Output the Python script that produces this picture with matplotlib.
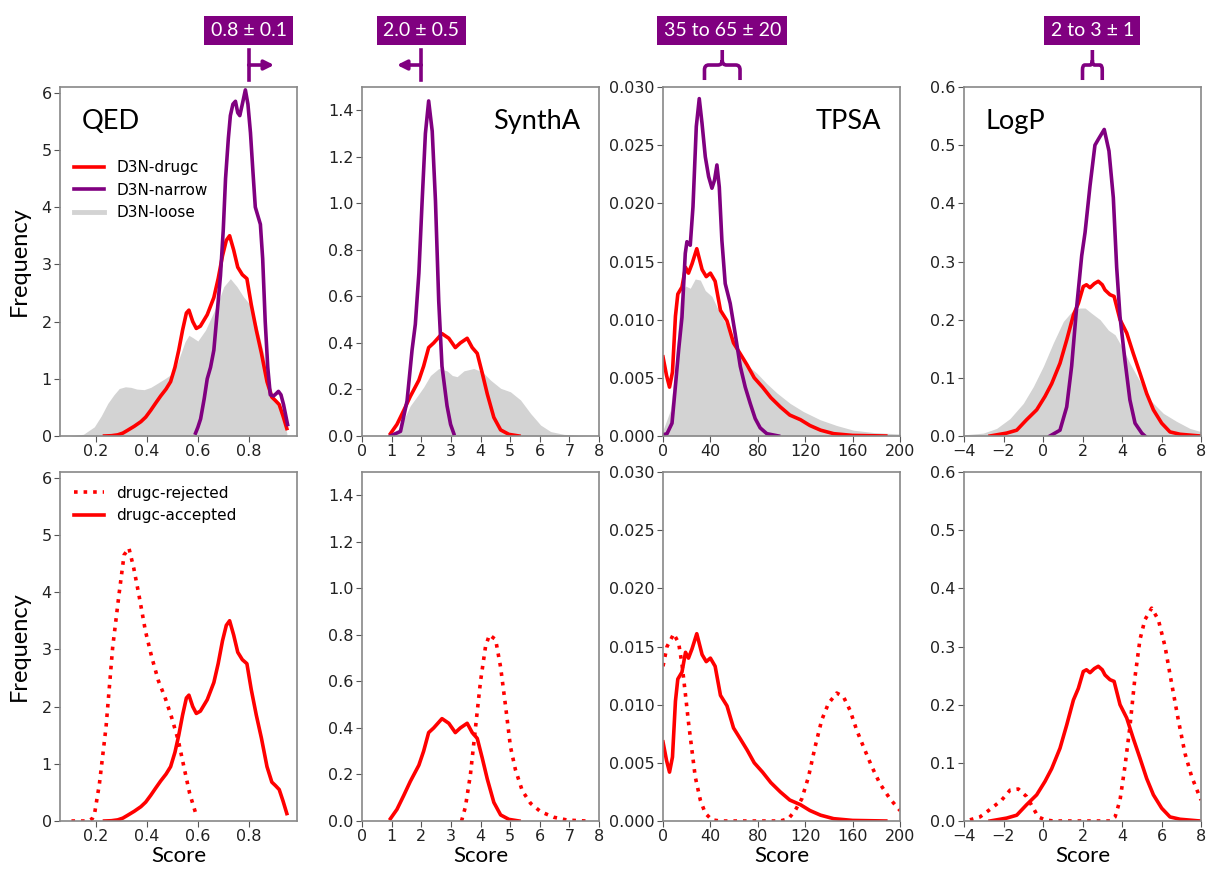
import matplotlib
matplotlib.use("Agg")
import matplotlib.pyplot as plt
from matplotlib.lines import Line2D
from matplotlib.path import Path
from matplotlib.patches import PathPatch
from matplotlib.transforms import blended_transform_factory

# ---- QED ----
qed_loose_x = [0.096, 0.15, 0.193, 0.22, 0.246, 0.27, 0.291, 0.315, 0.337, 0.36, 0.389, 0.415, 0.441,
               0.47, 0.493, 0.515, 0.533, 0.55, 0.565, 0.58, 0.6, 0.63, 0.663, 0.685, 0.702, 0.728,
               0.754, 0.78, 0.807, 0.833, 0.859, 0.885, 0.911, 0.937, 0.95]
qed_loose_y = [0.0, 0.03, 0.16, 0.35, 0.57, 0.72, 0.83, 0.86, 0.85, 0.82, 0.81, 0.85, 0.92,
               1.0, 1.07, 1.22, 1.44, 1.65, 1.76, 1.72, 1.66, 1.85, 2.17, 2.4, 2.61, 2.75,
               2.61, 2.43, 2.29, 1.91, 1.44, 0.86, 0.57, 0.28, 0.05]
qed_drugc_x = [0.233, 0.26, 0.285, 0.305, 0.324, 0.35, 0.376, 0.395, 0.415, 0.435, 0.454, 0.475, 0.493,
               0.51, 0.525, 0.54, 0.555, 0.565, 0.58, 0.594, 0.61, 0.637, 0.663, 0.68, 0.697, 0.712,
               0.725, 0.741, 0.757, 0.775, 0.793, 0.81, 0.83, 0.85, 0.872, 0.891, 0.905, 0.92, 0.935, 0.95]
qed_drugc_y = [0.0, 0.005, 0.02, 0.05, 0.1, 0.17, 0.25, 0.33, 0.45, 0.58, 0.7, 0.82, 0.95,
               1.2, 1.5, 1.85, 2.15, 2.2, 2.0, 1.88, 1.92, 2.12, 2.42, 2.75, 3.15, 3.42,
               3.5, 3.25, 2.95, 2.82, 2.75, 2.3, 1.85, 1.45, 0.95, 0.68, 0.62, 0.55, 0.35, 0.13]
qed_narrow_x = [0.591, 0.6, 0.611, 0.625, 0.637, 0.65, 0.663, 0.675, 0.689, 0.7, 0.709, 0.72, 0.728,
                0.738, 0.748, 0.757, 0.765, 0.775, 0.787, 0.797, 0.807, 0.817, 0.826, 0.836, 0.846,
                0.855, 0.865, 0.875, 0.885, 0.898, 0.908, 0.917, 0.927, 0.937, 0.953]
qed_narrow_y = [0.05, 0.15, 0.3, 0.65, 1.0, 1.2, 1.5, 2.1, 2.8, 3.6, 4.5, 5.2, 5.6,
                5.8, 5.85, 5.65, 5.6, 5.8, 6.05, 5.8, 5.3, 4.6, 4.0, 3.85, 3.7,
                3.1, 2.0, 1.2, 0.72, 0.7, 0.74, 0.78, 0.72, 0.55, 0.2]
qed_rej_x = [0.103, 0.168, 0.185, 0.194, 0.213, 0.239, 0.265, 0.29, 0.31, 0.329, 0.348, 0.368, 0.394,
             0.419, 0.445, 0.471, 0.497, 0.523, 0.548, 0.568, 0.594]
qed_rej_y = [0.0, 0.0, 0.04, 0.13, 0.65, 1.64, 3.03, 3.96, 4.65, 4.77, 4.42, 3.96, 3.32,
             2.86, 2.45, 2.16, 1.81, 1.41, 0.89, 0.48, 0.1]

# ---- SynthA ----
sa_loose_x = [1.13, 1.41, 1.63, 1.86, 2.08, 2.31, 2.59, 2.87, 3.05, 3.21, 3.44, 3.77, 4.06, 4.34,
              4.68, 5.01, 5.35, 5.69, 6.03, 6.37, 6.82, 7.55]
sa_loose_y = [0.01, 0.07, 0.13, 0.17, 0.21, 0.26, 0.29, 0.28, 0.26, 0.255, 0.28, 0.29, 0.276, 0.24,
              0.205, 0.19, 0.155, 0.097, 0.047, 0.019, 0.007, 0.0]
sa_drugc_x = [0.96, 1.18, 1.41, 1.63, 1.92, 2.08, 2.25, 2.42, 2.7, 2.93, 3.15, 3.32, 3.55, 3.72,
              3.89, 4.06, 4.23, 4.45, 4.68, 4.96, 5.3]
sa_drugc_y = [0.01, 0.05, 0.11, 0.17, 0.24, 0.30, 0.38, 0.40, 0.44, 0.42, 0.38, 0.40, 0.42, 0.38,
              0.355, 0.27, 0.18, 0.08, 0.026, 0.007, 0.0]
sa_narrow_x = [0.96, 1.3, 1.52, 1.69, 1.8, 1.92, 2.03, 2.14, 2.25, 2.37, 2.48, 2.59, 2.7, 2.87, 2.99, 3.1]
sa_narrow_y = [0.0, 0.02, 0.15, 0.37, 0.48, 0.7, 1.01, 1.3, 1.44, 1.31, 1.01, 0.58, 0.3, 0.13, 0.05, 0.01]
sa_rej_x = [3.36, 3.49, 3.66, 3.83, 4.0, 4.17, 4.3, 4.51, 4.68, 4.85, 5.01, 5.18, 5.41, 5.69,
            6.03, 6.48, 6.93, 7.55]
sa_rej_y = [0.0, 0.06, 0.2, 0.4, 0.6, 0.75, 0.8, 0.78, 0.66, 0.49, 0.32, 0.22, 0.13, 0.076,
            0.04, 0.016, 0.004, 0.0]

# ---- TPSA ----
tp_loose_x = [0, 6.2, 10.4, 14.6, 18.8, 23, 27.2, 31.5, 35.7, 41.3, 46.9, 52.5, 58.1, 65.2, 72.2,
              79.2, 87.6, 96.1, 107.3, 118.5, 132.6, 146.6, 160.7, 177.5, 200]
tp_loose_y = [0.0005, 0.0022, 0.006, 0.0117, 0.0129, 0.0127, 0.0135, 0.0134, 0.0125, 0.012, 0.0108,
              0.0097, 0.0085, 0.0071, 0.006, 0.0054, 0.0045, 0.0037, 0.0028, 0.0021, 0.0014, 0.0009,
              0.0005, 0.0003, 0.00017]
tp_drugc_x = [0, 3, 5.5, 8, 10.5, 12.5, 16, 19, 21.5, 24.5, 28.5, 33, 36.5, 40, 44, 48.5, 54, 59.5,
              65, 71, 77, 84, 91, 99, 107, 116, 124, 133, 144, 160, 188]
tp_drugc_y = [0.0068, 0.0052, 0.0042, 0.0055, 0.0103, 0.0122, 0.0128, 0.0145, 0.014, 0.0148, 0.0161,
              0.0143, 0.0137, 0.014, 0.0133, 0.0108, 0.0099, 0.008, 0.0071, 0.0061, 0.005, 0.0042,
              0.0033, 0.0025, 0.0018, 0.0014, 0.0009, 0.0005, 0.0002, 0.00005, 0.0]
tp_narrow_x = [0, 3.4, 7.6, 10.4, 13.2, 16, 18.8, 20.2, 23, 25.3, 28.1, 30.6, 32.9, 35.7, 38.5, 41.3,
               43.5, 45.5, 47.5, 49.7, 52.5, 56.7, 60.9, 65.2, 69.4, 73.6, 77.8, 82, 87.6, 97.5]
tp_narrow_y = [0.0001, 0.0002, 0.0011, 0.0042, 0.0074, 0.0102, 0.0157, 0.0167, 0.0164, 0.0197, 0.0266,
               0.029, 0.0269, 0.024, 0.0223, 0.0213, 0.022, 0.0233, 0.0214, 0.0168, 0.0131, 0.0114,
               0.0088, 0.006, 0.0042, 0.0028, 0.0015, 0.0007, 0.0002, 0.0]
tp_rej_x = [0, 3.4, 7.6, 9, 13.2, 16, 18.8, 21.6, 24.4, 27.2, 31.5, 35.7, 41.3, 48.3, 98.9, 105.9,
            111.5, 117.1, 122.8, 128.4, 134, 139.6, 146.6, 152.2, 157.9, 163.5, 169.1, 176.1, 183.1,
            191.6, 200]
tp_rej_y = [0.0133, 0.015, 0.0158, 0.0161, 0.0153, 0.0135, 0.011, 0.0084, 0.0061, 0.0038, 0.0018,
            0.00066, 0.0001, 0.0, 0.0, 0.0002, 0.0009, 0.0019, 0.0038, 0.0064, 0.0087, 0.0101, 0.011,
            0.0107, 0.0095, 0.0078, 0.0064, 0.0047, 0.0032, 0.0019, 0.0009]

# ---- LogP ----
lp_loose_x = [-4, -3.02, -2.35, -1.67, -1.0, -0.49, 0.02, 0.52, 1.03, 1.54, 1.87, 2.13, 2.46, 2.89,
              3.31, 3.65, 3.98, 4.4, 4.91, 5.42, 6.09, 6.77, 7.44, 8]
lp_loose_y = [0.002, 0.005, 0.013, 0.03, 0.056, 0.085, 0.12, 0.16, 0.197, 0.217, 0.22, 0.22, 0.211, 0.2,
              0.182, 0.174, 0.154, 0.125, 0.094, 0.062, 0.039, 0.025, 0.013, 0.0075]
lp_drugc_x = [-2.68, -1.84, -1.33, -0.83, -0.32, 0.1, 0.44, 0.86, 1.2, 1.54, 1.79, 2.04, 2.2, 2.38,
              2.6, 2.8, 3.0, 3.14, 3.39, 3.6, 3.9, 4.24, 4.57, 4.91, 5.25, 5.59, 6.01, 6.43, 6.94, 7.95]
lp_drugc_y = [0.0, 0.005, 0.01, 0.028, 0.045, 0.068, 0.09, 0.125, 0.165, 0.208, 0.228, 0.257, 0.26, 0.255,
              0.262, 0.266, 0.26, 0.251, 0.243, 0.24, 0.2, 0.177, 0.142, 0.108, 0.073, 0.045, 0.022,
              0.007, 0.003, 0.0]
lp_narrow_x = [0.35, 0.86, 1.2, 1.45, 1.7, 1.96, 2.13, 2.38, 2.63, 2.8, 3.1, 3.34, 3.56, 3.73, 3.9,
               4.15, 4.4, 4.66, 5.0, 5.16]
lp_narrow_y = [0.0, 0.01, 0.05, 0.12, 0.22, 0.31, 0.35, 0.43, 0.5, 0.51, 0.527, 0.49, 0.41, 0.29, 0.205,
               0.13, 0.062, 0.022, 0.005, 0.0]
lp_rej_x = [-3.7, -3.19, -2.6, -2.09, -1.67, -1.25, -0.83, -0.49, -0.24, 0.1, 0.52, 3.39, 3.65, 3.9,
            4.15, 4.4, 4.66, 4.91, 5.16, 5.5, 5.84, 6.18, 6.51, 6.85, 7.19, 7.53, 8]
lp_rej_y = [0.002, 0.007, 0.022, 0.036, 0.053, 0.055, 0.042, 0.022, 0.007, 0.002, 0.0, 0.0, 0.007, 0.036,
            0.094, 0.162, 0.248, 0.312, 0.346, 0.366, 0.346, 0.3, 0.237, 0.174, 0.116, 0.076, 0.036]

nombres = ["QED", "SynthA", "TPSA", "LogP"]
limites_x = [(0.058, 0.99), (0, 8), (0, 200), (-4, 8)]
limites_y = [(0, 6.1), (0, 1.5), (0, 0.030), (0, 0.6)]
ticks_x = [[0.2, 0.4, 0.6, 0.8], list(range(0, 9)), [0, 40, 80, 120, 160, 200], [-4, -2, 0, 2, 4, 6, 8]]
ticks_y = [[0, 1, 2, 3, 4, 5, 6], [0.0, 0.2, 0.4, 0.6, 0.8, 1.0, 1.2, 1.4],
           [0.0, 0.005, 0.010, 0.015, 0.020, 0.025, 0.030], [0.0, 0.1, 0.2, 0.3, 0.4, 0.5, 0.6]]
fmt_y = ["{:.0f}", "{:.1f}", "{:.3f}", "{:.1f}"]
etiquetas_caja = ["0.8 ± 0.1", "2.0 ± 0.5", "35 to 65 ± 20", "2 to 3 ± 1"]
rango_objetivo = [(0.8, 0.9), (2.0, 1.18), (35, 65), (2, 3)]

curvas_loose = [(qed_loose_x, qed_loose_y), (sa_loose_x, sa_loose_y), (tp_loose_x, tp_loose_y), (lp_loose_x, lp_loose_y)]
curvas_drugc = [(qed_drugc_x, qed_drugc_y), (sa_drugc_x, sa_drugc_y), (tp_drugc_x, tp_drugc_y), (lp_drugc_x, lp_drugc_y)]
curvas_narrow = [(qed_narrow_x, qed_narrow_y), (sa_narrow_x, sa_narrow_y), (tp_narrow_x, tp_narrow_y), (lp_narrow_x, lp_narrow_y)]
curvas_rej = [(qed_rej_x, qed_rej_y), (sa_rej_x, sa_rej_y), (tp_rej_x, tp_rej_y), (lp_rej_x, lp_rej_y)]

MORADO = "purple"
LW = 2.6
FUENTE = "Lato"

fig = plt.figure(figsize=(12.06, 8.71), dpi=100)
izq = [60, 362, 663, 964]
ancho = 237 / 1206
alto = 349 / 871


def estilo_ejes(ax, i):
    ax.set_xlim(*limites_x[i])
    ax.set_ylim(*limites_y[i])
    ax.set_xticks(ticks_x[i])
    ax.set_yticks(ticks_y[i])
    ax.set_yticklabels([fmt_y[i].format(v) for v in ticks_y[i]])
    ax.tick_params(labelsize=11.5, colors="#222222", length=4, color="#555555", pad=2)
    for sp in ax.spines.values():
        sp.set_color("#888888")
        sp.set_linewidth(1.2)


def dibujar_anotacion(ax, i):
    tr = blended_transform_factory(ax.transData, ax.transAxes)
    a, b = rango_objetivo[i]
    y0, y1, y2 = 1.02, 1.063, 1.106
    if i < 2:
        ax.plot([a, a], [y0, y2], color=MORADO, lw=LW, transform=tr, clip_on=False)
        ax.annotate("", xy=(b, y1), xytext=(a, y1), xycoords=tr, textcoords=tr,
                    arrowprops=dict(arrowstyle="-|>", color=MORADO, lw=LW, mutation_scale=14,
                                    shrinkA=0, shrinkB=0))
        xc = a
    else:
        xc = (a + b) / 2
        r = (b - a) * 0.12
        ry = 0.014
        verts = [(a, y0), (a, y1 - ry), (a, y1), (a + r, y1), (xc - r, y1), (xc, y1), (xc, y1 + ry), (xc, y2),
                 (xc, y1 + ry), (xc, y1), (xc + r, y1), (b - r, y1), (b, y1), (b, y1 - ry), (b, y0)]
        codes = [Path.MOVETO, Path.LINETO, Path.CURVE3, Path.CURVE3, Path.LINETO, Path.CURVE3, Path.CURVE3,
                 Path.LINETO, Path.MOVETO, Path.CURVE3, Path.CURVE3, Path.LINETO, Path.CURVE3, Path.CURVE3,
                 Path.LINETO]
        ax.add_patch(PathPatch(Path(verts, codes), fill=False, edgecolor=MORADO, lw=LW,
                               transform=tr, clip_on=False, capstyle="butt"))
    ax.text(xc, 1.162, etiquetas_caja[i], transform=tr, ha="center", va="center", color="white",
            fontsize=14, family=FUENTE,
            bbox=dict(boxstyle="square,pad=0.33", facecolor=MORADO, edgecolor="none"))


pos_titulo = [(0.09, 0.9, "left"), (0.92, 0.9, "right"), (0.92, 0.9, "right"), (0.09, 0.9, "left")]

for i in range(4):
    # fila de arriba
    ax = fig.add_axes([izq[i] / 1206, 1 - 436 / 871, ancho, alto])
    lx, ly = curvas_loose[i]
    ax.fill_between(lx, ly, 0, color="lightgray", lw=0)
    dx, dy = curvas_drugc[i]
    ax.plot(dx, dy, color="red", lw=LW)
    nx, ny = curvas_narrow[i]
    ax.plot(nx, ny, color=MORADO, lw=LW)
    estilo_ejes(ax, i)
    px, py, ha = pos_titulo[i]
    ax.text(px, py, nombres[i], transform=ax.transAxes, ha=ha, va="center", fontsize=19.5, family=FUENTE)
    dibujar_anotacion(ax, i)
    if i == 0:
        ax.set_ylabel("Frequency", fontsize=17, family=FUENTE, labelpad=8)
        handles = [Line2D([], [], color="red", lw=LW), Line2D([], [], color=MORADO, lw=LW),
                   Line2D([], [], color="lightgray", lw=3.5)]
        ax.legend(handles, ["D3N-drugc", "D3N-narrow", "D3N-loose"], loc="upper left",
                  bbox_to_anchor=(0.0, 0.83), frameon=False, fontsize=11)

    # fila de abajo
    ax2 = fig.add_axes([izq[i] / 1206, 1 - 821 / 871, ancho, alto])
    rx, ry = curvas_rej[i]
    ax2.plot(rx, ry, color="red", lw=LW, ls=":")
    ax2.plot(dx, dy, color="red", lw=LW)
    estilo_ejes(ax2, i)
    ax2.set_xlabel("Score", fontsize=16, family=FUENTE, labelpad=1)
    if i == 0:
        ax2.set_ylabel("Frequency", fontsize=17, family=FUENTE, labelpad=8)
        handles = [Line2D([], [], color="red", lw=LW, ls=":"), Line2D([], [], color="red", lw=LW)]
        ax2.legend(handles, ["drugc-rejected", "drugc-accepted"], loc="upper left",
                   frameon=False, fontsize=11)

fig.savefig("out.png", dpi=100)
